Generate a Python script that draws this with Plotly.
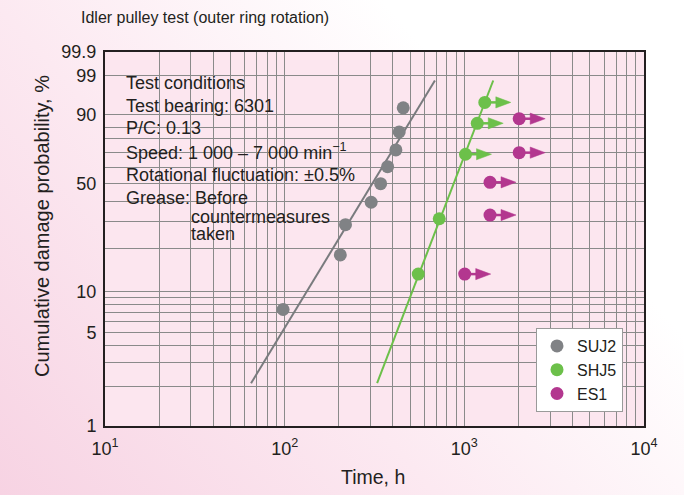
import base64
import numpy as np
import plotly.graph_objects as go

# ---------------- data ----------------
title_text = "Idler pulley test (outer ring rotation)"
x_title = "Time, h"
y_title = "Cumulative damage probability, %"

condition_lines = [
    "Test conditions",
    "Test bearing: 6301",
    "P/C: 0.13",
    "Speed: 1 000 – 7 000 min<sup>−1</sup>",
    "Rotational fluctuation: ±0.5%",
    "Grease: Before",
]
grease_cont = ["countermeasures", "taken"]

x_tick_vals = [10, 100, 1000, 10000]
x_tick_text = ["10<sup>1</sup>", "10<sup>2</sup>", "10<sup>3</sup>", "10<sup>4</sup>"]
x_minor_vals = [20, 30, 40, 50, 60, 70, 80, 90,
                200, 300, 400, 500, 600, 700, 800, 900,
                2000, 3000, 4000, 5000, 6000, 7000, 8000, 9000]

y_tick_vals = [1, 5, 10, 50, 90, 99, 99.9]
y_tick_text = ["1", "5", "10", "50", "90", "99", "99.9"]
y_minor_vals = [2, 3, 4, 6, 7, 8, 9, 20, 30, 40, 60, 70, 78, 84]

suj2_time = [98, 204, 218, 303, 342, 374, 416, 434, 457]
suj2_prob = [7.4, 18.1, 28.7, 39.4, 50.0, 60.6, 71.3, 81.9, 92.6]
suj2_fit_time = [65, 686]
suj2_fit_prob = [2.1, 98.5]

shj5_time = [554, 725, 1015, 1180, 1300]
shj5_prob = [13.3, 31.3, 68.6, 86.3, 94.3]
shj5_suspended = [False, False, True, True, True]
shj5_fit_time = [327, 1448]
shj5_fit_prob = [2.1, 98.5]

es1_time = [1005, 1390, 1390, 2020, 2020]
es1_prob = [13.3, 33.0, 50.8, 69.6, 88.4]
es1_suspended = [True, True, True, True, True]

# ---------------- styling ----------------
W, H = 684, 495
ML, MR, MT, MB = 105, 40, 52, 69
PW, PH = W - ML - MR, H - MT - MB
FONT = "Liberation Sans, Arial, sans-serif"
TXT = "#231f20"
GRID = "#8a8a8a"
PLOT_BG = "#fce6ef"
C_SUJ2 = "#808285"
C_SHJ5 = "#6cc04a"
C_ES1 = "#b3378f"


def weib(p):
    p = np.asarray(p, dtype=float) / 100.0
    return np.log(-np.log(1.0 - p))


Y0, Y1 = float(weib(1)), float(weib(99.9))
PX_PER_DEC = PW / 3.0
PX_PER_W = PH / (Y1 - Y0)


def px(xp):
    return (xp - ML) / PW


def py(yp):
    return (H - MB - yp) / PH


fig = go.Figure()

# fitted lines
fig.add_trace(go.Scatter(x=suj2_fit_time, y=weib(suj2_fit_prob), mode="lines",
                         line=dict(color="#797b7e", width=2), showlegend=False, hoverinfo="skip"))
fig.add_trace(go.Scatter(x=shj5_fit_time, y=weib(shj5_fit_prob), mode="lines",
                         line=dict(color=C_SHJ5, width=2), showlegend=False, hoverinfo="skip"))


def arrows(times, probs, flags, color):
    base_f = 10 ** (11 / PX_PER_DEC)
    tip_f = 10 ** (26 / PX_PER_DEC)
    hh = 5.6 / PX_PER_W
    lx, ly, tx, ty = [], [], [], []
    for t, p, f in zip(times, probs, flags):
        if not f:
            continue
        yw = float(weib(p))
        lx += [t, t * base_f * 1.02, None]
        ly += [yw, yw, None]
        tx += [t * base_f, t * base_f, t * tip_f, t * base_f, None]
        ty += [yw + hh, yw - hh, yw, yw + hh, None]
    fig.add_trace(go.Scatter(x=lx, y=ly, mode="lines", line=dict(color=color, width=2.5),
                             showlegend=False, hoverinfo="skip"))
    fig.add_trace(go.Scatter(x=tx, y=ty, mode="lines", fill="toself", fillcolor=color,
                             line=dict(color=color, width=0.5), showlegend=False, hoverinfo="skip"))


arrows(shj5_time, shj5_prob, shj5_suspended, C_SHJ5)
arrows(es1_time, es1_prob, es1_suspended, C_ES1)

for name, t, p, c in [("SUJ2", suj2_time, suj2_prob, C_SUJ2),
                      ("SHJ5", shj5_time, shj5_prob, C_SHJ5),
                      ("ES1", es1_time, es1_prob, C_ES1)]:
    fig.add_trace(go.Scatter(x=t, y=weib(p), mode="markers", name=name,
                             marker=dict(color=c, size=13, symbol="circle", line=dict(width=0))))

# background gradient image (paper) with plot area pink
svg = (
    f'<svg xmlns="http://www.w3.org/2000/svg" width="{W}" height="{H}" viewBox="0 0 {W} {H}" preserveAspectRatio="none">'
    '<defs><linearGradient id="g" x1="0" y1="1" x2="1" y2="0.35">'
    '<stop offset="0" stop-color="#f7d3e3"/><stop offset="0.45" stop-color="#fce9f1"/>'
    '<stop offset="0.85" stop-color="#ffffff"/></linearGradient></defs>'
    f'<rect x="0" y="0" width="{W}" height="{H}" fill="url(#g)"/>'
    f'<rect x="{ML}" y="{MT}" width="{PW}" height="{PH}" fill="{PLOT_BG}"/>'
    '</svg>'
)
src = "data:image/svg+xml;base64," + base64.b64encode(svg.encode()).decode()
fig.add_layout_image(dict(source=src, xref="paper", yref="paper", x=-ML / PW, y=1 + MT / PH,
                          sizex=W / PW, sizey=H / PH, xanchor="left", yanchor="top",
                          sizing="stretch", layer="below"))

# mask behind the test-condition text
for x0, x1, y0, y1 in [(120, 360, 69, 196), (120, 341, 196, 244)]:
    fig.add_shape(type="rect", xref="paper", yref="paper", x0=px(x0), x1=px(x1), y0=py(y1), y1=py(y0),
                  fillcolor=PLOT_BG, line=dict(width=0), layer="between")

# text annotations
line_y = [83, 105.5, 128, 151.5, 174.5, 197.5]
for s, yy in zip(condition_lines, line_y):
    fig.add_annotation(text=s, xref="paper", yref="paper", x=px(124), y=py(yy), xanchor="left",
                       yanchor="middle", showarrow=False, font=dict(family=FONT, size=18, color=TXT))
for s, yy in zip(grease_cont, [216.5, 234]):
    fig.add_annotation(text=s, xref="paper", yref="paper", x=px(189), y=py(yy), xanchor="left",
                       yanchor="middle", showarrow=False, font=dict(family=FONT, size=18, color=TXT))

fig.add_annotation(text=title_text, xref="paper", yref="paper", x=px(79), y=py(17), xanchor="left",
                   yanchor="middle", showarrow=False, font=dict(family=FONT, size=16, color=TXT))
fig.add_annotation(text=x_title, xref="paper", yref="paper", x=px(373), y=py(477), xanchor="center",
                   yanchor="middle", showarrow=False, font=dict(family=FONT, size=19.5, color=TXT))
fig.add_annotation(text=y_title, xref="paper", yref="paper", x=px(42), y=py(226), xanchor="center",
                   yanchor="middle", textangle=-90, showarrow=False,
                   font=dict(family=FONT, size=20, color=TXT))

fig.update_xaxes(type="log", range=[1, 4], tickmode="array", tickvals=x_tick_vals, ticktext=x_tick_text,
                 showgrid=True, gridcolor=GRID, gridwidth=1, ticks="",
                 minor=dict(tickmode="array", tickvals=x_minor_vals, showgrid=True, gridcolor=GRID, gridwidth=1, ticks=""),
                 showline=True, mirror=True, linecolor=TXT, linewidth=2, zeroline=False,
                 ticklabelstandoff=5,
                 tickfont=dict(family=FONT, size=18, color=TXT))
fig.update_yaxes(range=[Y0, Y1], tickmode="array", tickvals=weib(y_tick_vals), ticktext=y_tick_text,
                 showgrid=True, gridcolor=GRID, gridwidth=1, ticks="",
                 minor=dict(tickmode="array", tickvals=weib(y_minor_vals), showgrid=True, gridcolor=GRID, gridwidth=1, ticks=""),
                 showline=True, mirror=True, linecolor=TXT, linewidth=2, zeroline=False,
                 ticklabelstandoff=3,
                 tickfont=dict(family=FONT, size=18, color=TXT))

fig.update_layout(width=W, height=H, autosize=False,
                  margin=dict(l=ML, r=MR, t=MT, b=MB),
                  paper_bgcolor="#ffffff", plot_bgcolor="rgba(0,0,0,0)",
                  showlegend=True,
                  legend=dict(x=px(536), y=py(328), xanchor="left", yanchor="top",
                              bgcolor="#ffffff", bordercolor="#9a9a9a", borderwidth=1,
                              font=dict(family=FONT, size=16, color=TXT), itemwidth=30,
                              tracegroupgap=0),
                  hovermode=False)

fig.write_html("out.html", config={"displayModeBar": False, "staticPlot": True},
               post_script="document.body.style.margin='0';document.body.style.overflow='hidden';")
